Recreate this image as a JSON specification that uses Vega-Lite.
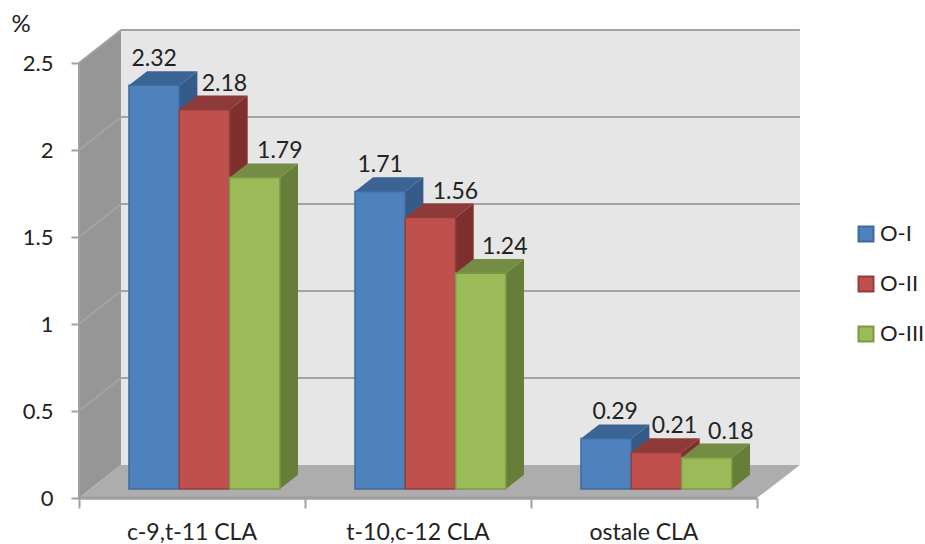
{
"$schema":"https://vega.github.io/schema/vega-lite/v6.json",
"width":730,"height":468,
"autosize":"none",
"padding":{"left":79,"top":30,"right":116,"bottom":46},
"background":"white",
"config":{"view":{"stroke":null},"text":{"font":"Lato"},"axis":{"labelFont":"Lato","titleFont":"Lato"},"legend":{"labelFont":"Lato"}},
"datasets":{
"bars":[
{"category":"c-9,t-11 CLA","series":"O-I","value":2.32},
{"category":"c-9,t-11 CLA","series":"O-II","value":2.18},
{"category":"c-9,t-11 CLA","series":"O-III","value":1.79},
{"category":"t-10,c-12 CLA","series":"O-I","value":1.71},
{"category":"t-10,c-12 CLA","series":"O-II","value":1.56},
{"category":"t-10,c-12 CLA","series":"O-III","value":1.24},
{"category":"ostale CLA","series":"O-I","value":0.29},
{"category":"ostale CLA","series":"O-II","value":0.21},
{"category":"ostale CLA","series":"O-III","value":0.18}
],
"ticks":[{"tick":0},{"tick":0.5},{"tick":1},{"tick":1.5},{"tick":2},{"tick":2.5}],
"depth":[{"d":0},{"d":1}]
},
"layer":[
{"data":{"name":"depth"},
 "transform":[{"calculate":"datum.d*0.1858","as":"wx"},{"calculate":"datum.d*0.19","as":"wy"},{"calculate":"2.5+datum.d*0.19","as":"wt"}],
 "mark":{"type":"area","color":"#969696"},
 "encoding":{
  "x":{"field":"wx","type":"quantitative","scale":{"domain":[0,3.2301],"nice":false,"zero":false},
   "axis":{"values":[0,1,2,3],"labels":false,"domain":false,"grid":false,"title":null,"tickSize":10,"tickColor":"#a0a0a0","tickWidth":2}},
  "y":{"field":"wy","type":"quantitative","scale":{"domain":[0,2.6897],"nice":false,"zero":false},
   "axis":{"values":[0,0.5,1,1.5,2,2.5],"format":"~g","domain":false,"grid":false,"tickSize":8,"tickColor":"#a0a0a0","tickWidth":2,"labelPadding":18,"labelFontSize":22,"labelColor":"#222222","title":"%","titleAngle":0,"titleFontSize":24,"titleFontWeight":"normal","titleColor":"#222222","titleX":-68,"titleY":-6,"titleAlign":"left","titleBaseline":"middle"}},
  "y2":{"field":"wt"}
 }},
{"data":{"name":"depth"},"mark":{"type":"rect","color":"#e6e6e6"},
 "encoding":{"x":{"datum":0.1858,"type":"quantitative"},"x2":{"datum":3.19},"y":{"datum":0.19,"type":"quantitative"},"y2":{"datum":2.69}}},
{"data":{"name":"ticks"},
 "transform":[{"filter":"datum.tick>0"},{"calculate":"datum.tick+0.19","as":"by"}],
 "mark":{"type":"rule","color":"#a3a3a3","strokeWidth":2},
 "encoding":{"x":{"datum":0.1858,"type":"quantitative"},"x2":{"datum":3.19},"y":{"field":"by","type":"quantitative"}}},
{"data":{"name":"ticks"},
 "transform":[{"filter":"datum.tick>0"},{"calculate":"[0,1]","as":"d"},{"flatten":["d"]},{"calculate":"datum.d*0.1858","as":"wx"},{"calculate":"datum.tick+datum.d*0.19","as":"wy"}],
 "mark":{"type":"line","color":"#a3a3a3","strokeWidth":2},
 "encoding":{"x":{"field":"wx","type":"quantitative"},"y":{"field":"wy","type":"quantitative"},"detail":{"field":"tick"}}},
{"data":{"name":"depth"},
 "transform":[{"calculate":"datum.d*0.1858","as":"wx"},{"calculate":"3+datum.d*0.19","as":"wx2"},{"calculate":"datum.d*0.19","as":"wy"}],
 "mark":{"type":"area","orient":"horizontal","color":"#adadad"},
 "encoding":{"y":{"field":"wy","type":"quantitative"},"x":{"field":"wx","type":"quantitative"},"x2":{"field":"wx2"}}},
{"data":{"name":"depth"},"mark":{"type":"rule","color":"#a0a0a0","strokeWidth":3},
 "encoding":{"x":{"datum":0,"type":"quantitative"},"x2":{"datum":3},"y":{"datum":0,"type":"quantitative"}}},
{"data":{"name":"depth"},"mark":{"type":"rule","color":"#a0a0a0","strokeWidth":2},
 "encoding":{"x":{"datum":0,"type":"quantitative"},"y":{"datum":0,"type":"quantitative"},"y2":{"datum":2.5}}},
{"data":{"name":"bars"},
 "transform":[
  {"calculate":"indexof(['c-9,t-11 CLA','t-10,c-12 CLA','ostale CLA'],datum.category)","as":"c"},
  {"calculate":"indexof(['O-I','O-II','O-III'],datum.series)","as":"s"},
  {"calculate":"datum.c+0.2212+datum.s*0.2226","as":"x0"},
  {"calculate":"datum.x0+0.2226","as":"x1"},
  {"calculate":"0.052+datum.value","as":"top"}
 ],
 "layer":[
  {"transform":[{"calculate":"[0,1]","as":"d"},{"flatten":["d"]},{"calculate":"datum.x1+datum.d*0.08","as":"sx"},{"calculate":"datum.top+datum.d*0.081","as":"sy"},{"calculate":"0.052+datum.d*0.081","as":"sy2"}],
   "mark":{"type":"area"},
   "encoding":{"x":{"field":"sx","type":"quantitative"},"y":{"field":"sy","type":"quantitative"},"y2":{"field":"sy2"},"detail":[{"field":"category"},{"field":"series"}],
    "color":{"field":"series","type":"nominal","legend":null,"scale":{"domain":["O-I","O-II","O-III"],"range":["#355b8a","#7f2f2d","#677d3a"]}}}},
  {"transform":[{"calculate":"[0,1]","as":"d"},{"flatten":["d"]},{"calculate":"datum.x0+datum.d*0.08","as":"tx"},{"calculate":"datum.x1+datum.d*0.08","as":"tx2"},{"calculate":"datum.top+datum.d*0.081","as":"ty"}],
   "mark":{"type":"area","orient":"horizontal"},
   "encoding":{"y":{"field":"ty","type":"quantitative"},"x":{"field":"tx","type":"quantitative"},"x2":{"field":"tx2"},"detail":[{"field":"category"},{"field":"series"}],
    "color":{"field":"series","type":"nominal","legend":null,"scale":{"domain":["O-I","O-II","O-III"],"range":["#3b6494","#8e3a38","#748c43"]}}}},
  {"mark":{"type":"rect","strokeWidth":1.5},
   "encoding":{"x":{"field":"x0","type":"quantitative"},"x2":{"field":"x1"},"y":{"field":"top","type":"quantitative"},"y2":{"datum":0.052},
    "color":{"field":"series","type":"nominal","scale":{"domain":["O-I","O-II","O-III"],"range":["#4f81bd","#c0504d","#9bbb59"]},
     "legend":{"title":null,"orient":"none","legendX":776,"legendY":193,"symbolType":"square","symbolSize":225,"symbolStrokeWidth":2,"labelFontSize":22,"labelColor":"#222222","labelOffset":3,"rowPadding":26,
      "encode":{"symbols":{"update":{"stroke":{"signal":"{'O-I':'#3f6a9e','O-II':'#943e3c','O-III':'#7c9a45'}[datum.value]"}}}}}},
    "stroke":{"field":"series","type":"nominal","legend":null,"scale":{"domain":["O-I","O-II","O-III"],"range":["#3f6a9e","#943e3c","#7c9a45"]}}}},
  {"transform":[{"calculate":"[[0,20,25],[0,25,24],[9,18,24]][datum.c][datum.s]/226","as":"shift"},{"calculate":"datum.x0+0.1113+datum.shift","as":"lx"}],
   "mark":{"type":"text","fontSize":23,"color":"#222222","dy":-26},
   "encoding":{"x":{"field":"lx","type":"quantitative"},"y":{"field":"top","type":"quantitative"},"text":{"field":"value","type":"quantitative","format":".2f"}}},
  {"transform":[{"filter":"datum.series==='O-I'"},{"calculate":"datum.c+0.5","as":"cx"}],
   "mark":{"type":"text","fontSize":23,"color":"#222222","dy":35},
   "encoding":{"x":{"field":"cx","type":"quantitative"},"y":{"datum":0,"type":"quantitative"},"text":{"field":"category","type":"nominal"}}}
 ],
 "resolve":{"scale":{"color":"independent"}}
}
]
}
